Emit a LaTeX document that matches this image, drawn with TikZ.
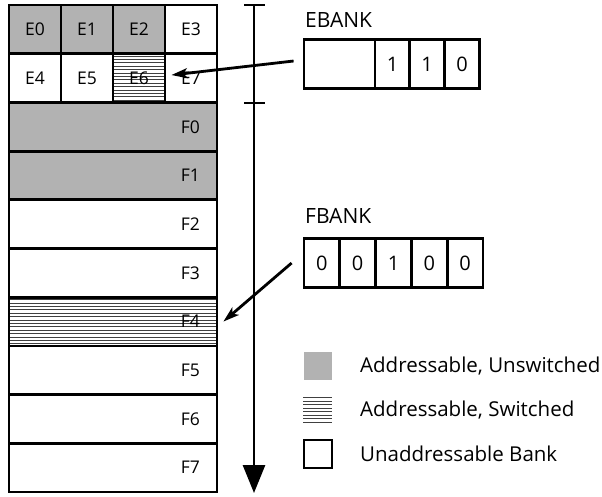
\documentclass[tikz,border=0pt]{standalone}
\usepackage{fontspec}
\setmainfont{Open Sans}
\usetikzlibrary{arrows.meta,calc}
\definecolor{bankgray}{RGB}{178,178,178}
\begin{document}
\begin{tikzpicture}[x=1pt,y=-1pt,
  cell/.style={draw,line width=2.8pt,minimum width=52pt,minimum height=48.7pt,inner sep=0pt,font=\fontsize{17.5}{17.5}\selectfont},
  fcell/.style={cell,minimum width=208pt,text width=174pt,align=right},
  regcell/.style={draw,line width=2.8pt,minimum height=49pt,inner sep=0pt,font=\fontsize{20}{20}\selectfont},
  hatch/.style={line width=0.7pt,black!75},
  thickline/.style={line width=2.8pt},
  ptr/.style={line width=2.8pt,-{Stealth[length=16pt,width=10pt,inset=4pt]}},
  lbl/.style={anchor=west,inner sep=0pt,font=\fontsize{21}{21}\selectfont},
  leg/.style={anchor=west,inner sep=0pt,font=\fontsize{20.5}{20.5}\selectfont},
]
\useasboundingbox (0,0) rectangle (602,496);
% hatching
\foreach \k in {0,...,13} \draw[hatch] (114,56+\k*3.4) -- (165,56+\k*3.4);
\foreach \k in {0,...,13} \draw[hatch] (10,299.5+\k*3.4) -- (216,299.5+\k*3.4);
\foreach \k in {0,...,7} \draw[hatch] (303,397.5+\k*3.5) -- (332,397.5+\k*3.5);
% E cells
\node[cell,fill=bankgray] (E0) at (35,29.35) {E0};
\node[cell,fill=bankgray] (E1) at (87,29.35) {E1};
\node[cell,fill=bankgray] (E2) at (139,29.35) {E2};
\node[cell] (E3) at (191,29.35) {E3};
\node[cell] (E4) at (35,78.05) {E4};
\node[cell] (E5) at (87,78.05) {E5};
\node[cell] (E6) at (139,78.05) {E6};
\node[cell] (E7) at (191,78.05) {E7};
% F cells
\node[fcell,fill=bankgray] (F0) at (113,126.75) {F0};
\node[fcell,fill=bankgray] (F1) at (113,175.45) {F1};
\node[fcell] (F2) at (113,224.15) {F2};
\node[fcell] (F3) at (113,272.85) {F3};
\node[fcell] (F4) at (113,321.55) {F4};
\node[fcell] (F5) at (113,370.25) {F5};
\node[fcell] (F6) at (113,418.95) {F6};
\node[fcell] (F7) at (113,467.65) {F7};
% axis
\coordinate (axtop) at (254,5);
\coordinate (axbot) at (254,493);
\coordinate (t1l) at (244,5); \coordinate (t1r) at (265,5);
\coordinate (t2l) at (244,103); \coordinate (t2r) at (265,103);
\draw[thickline,-{Triangle[length=28pt,width=22pt]}] (axtop) -- (axbot);
\draw[thickline] (t1l) -- (t1r);
\draw[thickline] (t2l) -- (t2r);
% EBANK
\node[lbl] (EBL) at (305,20) {EBANK};
\node[regcell,minimum width=71pt] (EB0) at (339.5,64) {};
\node[regcell,minimum width=35pt] (EB1) at (392.5,64) {1};
\node[regcell,minimum width=34.5pt] (EB2) at (427,64) {1};
\node[regcell,minimum width=35.5pt] (EB3) at (462,64) {0};
% FBANK
\node[lbl] (FBL) at (305,216) {FBANK};
\node[regcell,minimum width=35.8pt] (FB0) at (321.9,263) {0};
\node[regcell,minimum width=35.8pt] (FB1) at (357.7,263) {0};
\node[regcell,minimum width=35.8pt] (FB2) at (393.5,263) {1};
\node[regcell,minimum width=35.8pt] (FB3) at (429.3,263) {0};
\node[regcell,minimum width=35.8pt] (FB4) at (465.1,263) {0};
% pointers
\coordinate (es) at ($(EB0.west)+(-9,-3)$);
\coordinate (ee) at ($(E6.east)+(5,-3)$);
\draw[ptr] (es) -- (ee);
\coordinate (fs) at ($(FB0.west)+(-11,0)$);
\coordinate (fe) at ($(F4.east)+(5,0)$);
\draw[ptr] (fs) -- (fe);
% legend
\node[fill=bankgray,minimum size=28pt,inner sep=0pt] (LG) at (317.5,365.5) {};
\node[draw,line width=1.2pt,minimum size=28pt,inner sep=0pt] (LW) at (318,454) {};
\node[leg] (T1) at (360,366) {Addressable, Unswitched};
\node[leg] (T2) at (360,410) {Addressable, Switched};
\node[leg] (T3) at (360,454) {Unaddressable Bank};
\end{tikzpicture}
\end{document}
